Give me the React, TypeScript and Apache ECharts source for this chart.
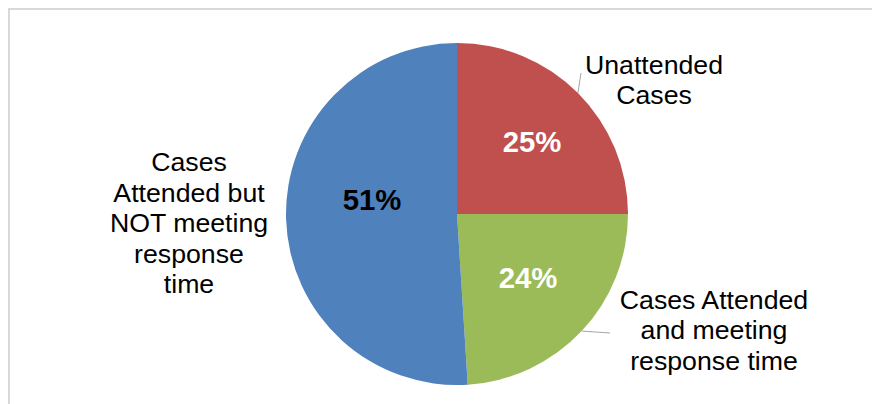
import React, { useEffect, useRef } from "react";
import * as echarts from "echarts";

// ---- data ----
const categories = [
  "Unattended Cases",
  "Cases Attended and meeting response time",
  "Cases Attended but NOT meeting response time",
];
const labelTexts = [
  "Unattended\nCases",
  "Cases Attended\nand meeting\nresponse time",
  "Cases\nAttended but\nNOT meeting\nresponse\ntime",
];
const values = [25, 24, 51];

// ---- styles / layout ----
const sliceColors = ["#C0504D", "#9BBB59", "#4F81BD"];
const percentColors = ["#FFFFFF", "#FFFFFF", "#000000"];
const FONT = "'Liberation Sans', Arial, sans-serif";
const CENTER: [number, number] = [447, 204];
const RADIUS = 171;
const namePos = [
  [644, 70],
  [704, 320],
  [179, 213],
];
const pctPos = [
  [522, 131],
  [518, 267],
  [362, 189],
];
const leaderEnd: (number[] | null)[] = [[571, 63], [600, 323], null];

function edgePoint(i: number): number[] {
  const total = values.reduce((a, b) => a + b, 0);
  let acc = 0;
  for (let k = 0; k < i; k++) acc += values[k];
  const mid = ((acc + values[i] / 2) / total) * Math.PI * 2;
  return [CENTER[0] + RADIUS * Math.sin(mid), CENTER[1] - RADIUS * Math.cos(mid)];
}

export default function App() {
  const ref = useRef<HTMLDivElement>(null);

  useEffect(() => {
    document.documentElement.style.overflow = "hidden";
    if (!ref.current) return;
    const chart = echarts.init(ref.current, undefined, { renderer: "svg" });
    chart.setOption({
      animation: false,
      backgroundColor: "#FFFFFF",
      series: [
        {
          type: "pie",
          center: CENTER,
          radius: RADIUS,
          startAngle: 90,
          clockwise: true,
          silent: true,
          data: categories.map((n, i) => ({
            name: n,
            value: values[i],
            itemStyle: { color: sliceColors[i] },
            label: { color: percentColors[i] },
          })),
          label: {
            show: true,
            position: "inside",
            formatter: (p: any) => Math.round(p.percent) + "%",
            fontSize: 29.3,
            fontWeight: "bold",
            fontFamily: FONT,
            textBorderWidth: 0,
          },
          labelLine: { show: false },
          labelLayout: (p: any) => ({
            x: pctPos[p.dataIndex][0],
            y: pctPos[p.dataIndex][1],
            align: "center",
            verticalAlign: "middle",
          }),
        },
        {
          type: "pie",
          center: CENTER,
          radius: RADIUS,
          startAngle: 90,
          clockwise: true,
          silent: true,
          data: categories.map((n, i) => ({
            name: n,
            value: values[i],
            itemStyle: { color: "rgba(0,0,0,0)" },
            labelLine: { show: leaderEnd[i] != null },
          })),
          label: {
            show: true,
            position: "outside",
            formatter: (p: any) => labelTexts[p.dataIndex],
            fontSize: 26.7,
            lineHeight: 30.5,
            color: "#000000",
            opacity: 1,
            align: "center",
            fontFamily: FONT,
          },
          labelLine: {
            show: true,
            length: 10,
            length2: 10,
            lineStyle: { color: "#A6A6A6", width: 1, opacity: 1 },
          },
          labelLayout: (p: any) => {
            const i = p.dataIndex;
            const r: any = {
              x: namePos[i][0],
              y: namePos[i][1],
              align: "center",
              verticalAlign: "middle",
            };
            const end = leaderEnd[i];
            if (end) {
              const s = edgePoint(i);
              r.labelLinePoints = [s, [(s[0] + end[0]) / 2, (s[1] + end[1]) / 2], end];
            }
            return r;
          },
        },
      ],
    });
    return () => chart.dispose();
  }, []);

  return (
    <div
      style={{
        width: 870,
        height: 394,
        borderTop: "2px solid #D9D9D9",
        borderLeft: "2px solid #D9D9D9",
      }}
    >
      <div ref={ref} style={{ width: 870, height: 394 }} />
    </div>
  );
}
